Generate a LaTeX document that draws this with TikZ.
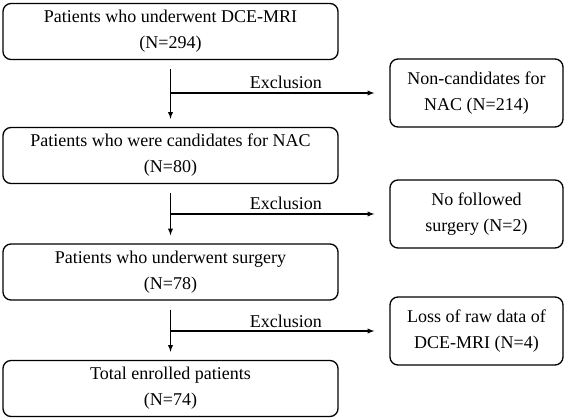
\documentclass[tikz,border=0pt]{standalone}
\usepackage{fontspec}
\setmainfont{Liberation Serif}
\usetikzlibrary{positioning}

\begin{document}
\begin{tikzpicture}[x=1pt,y=1pt,>=latex,line width=1.3pt,
  stage/.style={draw,rounded corners=8pt,minimum width=335pt,minimum height=56pt,align=center,font=\fontsize{18}{26}\selectfont},
  drop/.style={draw,rounded corners=8pt,minimum width=173pt,minimum height=68pt,align=center,font=\fontsize{18}{26}\selectfont},
  lbl/.style={font=\fontsize{18}{22}\selectfont,anchor=base,yshift=4pt,xshift=6pt}]
  \useasboundingbox (0,0) rectangle (566,-420);
  \node[stage] (s1) at (170.5,-31.5) {Patients who underwent DCE-MRI\\(N=294)};
  \node[stage] (s2) at (170.5,-155.5) {Patients who were candidates for NAC\\(N=80)};
  \node[stage] (s3) at (170.5,-272) {Patients who underwent surgery\\(N=78)};
  \node[stage] (s4) at (170.5,-388.5) {Total enrolled patients\\(N=74)};
  \node[drop] (d1) at (476.5,-93) {Non-candidates for\\NAC (N=214)};
  \node[drop] (d2) at (476.5,-214) {No followed\\surgery (N=2)};
  \node[drop] (d3) at (476.5,-331) {Loss of raw data of\\DCE-MRI (N=4)};
  \foreach \a/\b/\d in {s1/s2/d1,s2/s3/d2,s3/s4/d3}{
    \coordinate (j\a) at (\a.south |- \d.west);
    \draw[->] ([yshift=-9pt]\a.south) -- ([yshift=8pt]\b.north);
    \draw[->,shorten >=15pt] (j\a) -- (\d.west)
      node[lbl,midway] {Exclusion};
  }
\end{tikzpicture}
\end{document}
